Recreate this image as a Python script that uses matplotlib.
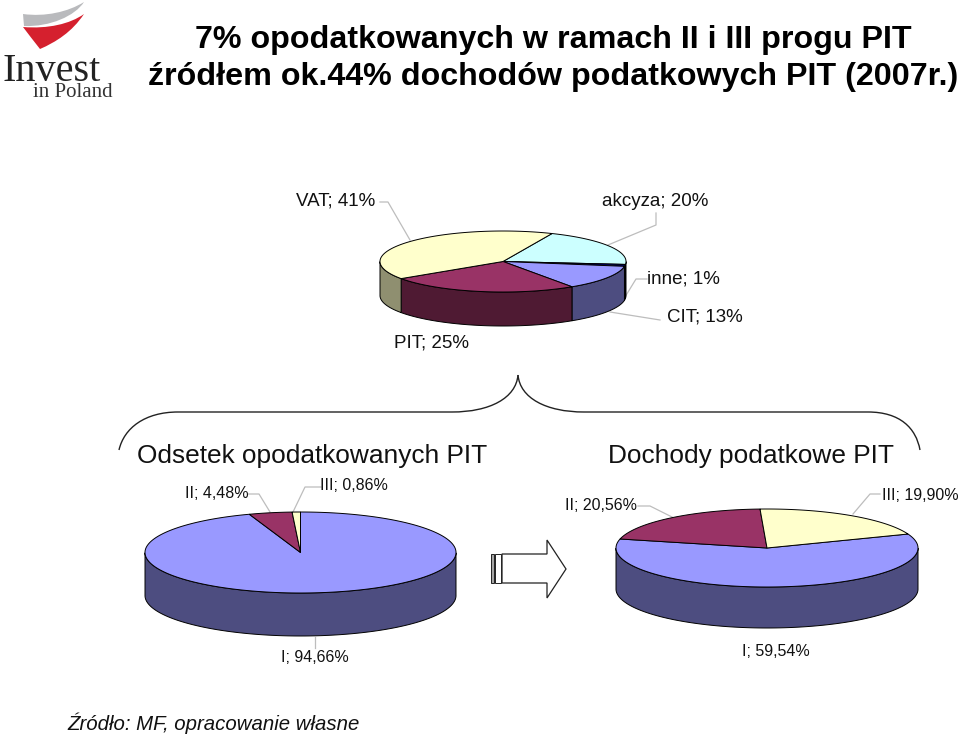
#!/usr/bin/env python3
import numpy as np
import matplotlib
matplotlib.use('Agg')
import matplotlib.pyplot as plt
from matplotlib.patches import Polygon, PathPatch
from matplotlib.path import Path

plt.rcParams['font.family'] = ['Liberation Sans', 'DejaVu Sans']

title_lines = ["7% opodatkowanych w ramach II i III progu PIT",
               "źródłem ok.44% dochodów podatkowych PIT (2007r.)"]

# top pie, clockwise: akcyza, inne, CIT, PIT, VAT
budget_values = [20, 1, 13, 25, 41]
budget_top = ['#CCFFFF', '#000080', '#9999FF', '#993366', '#FFFFCC']
budget_side = ['#70908F', '#000038', '#4D4D80', '#4F1A33', '#8F8F70']

# bottom pies: I, II, III
taxed_values = [94.66, 4.48, 0.86]
income_values = [59.54, 20.56, 19.90]
bracket_top = ['#9999FF', '#993366', '#FFFFCC']
bracket_side = ['#4D4D80', '#4F1A33', '#8F8F70']

LEADER = '#BDBDBD'


def pie3d(ax, cx, cy, rx, ry, depth, start, values, tops, sides):
    fracs = np.array(values, dtype=float) / np.sum(values) * 360
    edges = start - np.concatenate([[0], np.cumsum(fracs)])
    # side walls first, only the part that faces us
    for a0, a1, col in zip(edges[:-1], edges[1:], sides):
        th = np.radians(np.linspace(a0, a1, 600))
        th = th[np.sin(th) <= 0]
        if len(th) < 2:
            continue
        x = cx + rx * np.cos(th)
        y = cy - ry * np.sin(th)
        pts = np.r_[np.c_[x, y], np.c_[x, y + depth][::-1]]
        ax.add_patch(Polygon(pts, fc=col, ec='black', lw=0.7, zorder=2))
    for a0, a1, col in zip(edges[:-1], edges[1:], tops):
        th = np.radians(np.linspace(a0, a1, 600))
        pts = np.r_[[[cx, cy]], np.c_[cx + rx * np.cos(th), cy - ry * np.sin(th)]]
        ax.add_patch(Polygon(pts, fc=col, ec='black', lw=0.7, zorder=3))


def leader(ax, xs, ys):
    ax.plot(xs, ys, color=LEADER, lw=0.9, zorder=1)


def label(ax, x, y, s, size=13.5):
    ax.text(x, y, s, ha='center', va='center', fontsize=size, color='#111111')


def main():
    fig = plt.figure(figsize=(9.6, 7.36), dpi=100)
    ax = fig.add_axes([0, 0, 1, 1])
    ax.set_xlim(0, 960)
    ax.set_ylim(736, 0)
    ax.axis('off')

    # logo
    gray = Path([(23, 14), (45, 17), (68, 12), (84, 2), (75, 16), (50, 27), (24, 26), (23, 14)],
                [1, 4, 4, 4, 4, 4, 4, 79])
    red = Path([(23, 27), (48, 29), (70, 24), (84, 14), (72, 32), (56, 42), (40, 49), (34, 41), (28, 34), (23, 27), (23, 27)],
               [1, 4, 4, 4, 4, 4, 4, 4, 4, 4, 79])
    ax.add_patch(PathPatch(gray, fc='#B9BABD', ec='none'))
    ax.add_patch(PathPatch(red, fc='#D5202E', ec='none'))
    ax.text(2, 81, "Invest", family=['Liberation Serif'], fontsize=29, color='#222222',
            ha='left', va='baseline')
    ax.text(33, 97, "in Poland", family=['Liberation Serif'], fontsize=15, color='#333333',
            ha='left', va='baseline')

    # title
    ax.text(553, 48, title_lines[0], ha='center', va='baseline', fontsize=23.2, fontweight='bold')
    ax.text(553, 85, title_lines[1], ha='center', va='baseline', fontsize=23.2, fontweight='bold')

    # top pie
    pie3d(ax, 503, 261.5, 123, 30.5, 34, 66.5, budget_values, budget_top, budget_side)
    leader(ax, [380, 388, 410], [202, 202, 240])
    leader(ax, [656, 656, 608], [213, 225, 245])
    leader(ax, [647, 636, 625], [279, 279, 297])
    leader(ax, [610, 660], [312, 320])
    label(ax, 336, 201, "VAT; 41%")
    label(ax, 655.5, 201, "akcyza; 20%")
    label(ax, 683, 279, "inne; 1%")
    label(ax, 704.5, 317, "CIT; 13%")
    label(ax, 431, 343, "PIT; 25%")

    # brace
    brace = Path([(518, 375), (516, 398), (490, 412), (452, 412),
                  (178, 412), (145, 412), (124, 428), (119, 450)],
                 [1, 4, 4, 4, 2, 4, 4, 4])
    ax.add_patch(PathPatch(brace, fc='none', ec='#222222', lw=1.0))
    brace_r = Path([(518, 375), (520, 398), (546, 412), (584, 412),
                    (868, 412), (900, 412), (916, 428), (920, 450)],
                   [1, 4, 4, 4, 2, 4, 4, 4])
    ax.add_patch(PathPatch(brace_r, fc='none', ec='#222222', lw=1.0))

    ax.text(312.5, 463, "Odsetek opodatkowanych PIT", ha='center', va='baseline', fontsize=18.9, color='#111111')
    ax.text(751, 463, "Dochody podatkowe PIT", ha='center', va='baseline', fontsize=18.9, color='#111111')

    # bottom left pie
    pie3d(ax, 300.5, 552.5, 155.5, 40.5, 43, 90, taxed_values, bracket_top, bracket_side)
    leader(ax, [248, 259, 270], [494, 494, 512])
    leader(ax, [321, 305, 293], [487, 487, 512])
    leader(ax, [315, 315], [637, 648])
    label(ax, 217, 494, "II; 4,48%", 11.5)
    label(ax, 353.5, 486, "III; 0,86%", 11.5)
    label(ax, 314.5, 658, "I; 94,66%", 11.5)

    # arrow between the pies
    arrow = [(502, 554), (547, 554), (547, 540), (566, 569), (547, 598), (547, 583), (502, 583)]
    ax.add_patch(Polygon(arrow, fc='white', ec='#222222', lw=0.9))
    ax.add_patch(Polygon([(491, 554), (494, 554), (494, 583), (491, 583)], fc='#A6A6A6', ec='#222222', lw=0.7))
    ax.add_patch(Polygon([(495, 554), (501, 554), (501, 583), (495, 583)], fc='white', ec='#222222', lw=0.7))

    # bottom right pie
    pie3d(ax, 767, 548, 151, 39, 41, 21, income_values, bracket_top, bracket_side)
    leader(ax, [638, 650, 672], [506, 506, 517])
    leader(ax, [880, 870, 853], [494, 494, 514])
    label(ax, 601, 506, "II; 20,56%", 11.5)
    label(ax, 920, 495, "III; 19,90%", 11.5)
    label(ax, 776, 652, "I; 59,54%", 11.5)

    ax.text(67, 730, "Źródło: MF, opracowanie własne", ha='left', va='baseline', fontsize=14.7,
            fontstyle='italic', color='#111111')

    fig.savefig('out.png', dpi=100)


if __name__ == "__main__":
    main()
